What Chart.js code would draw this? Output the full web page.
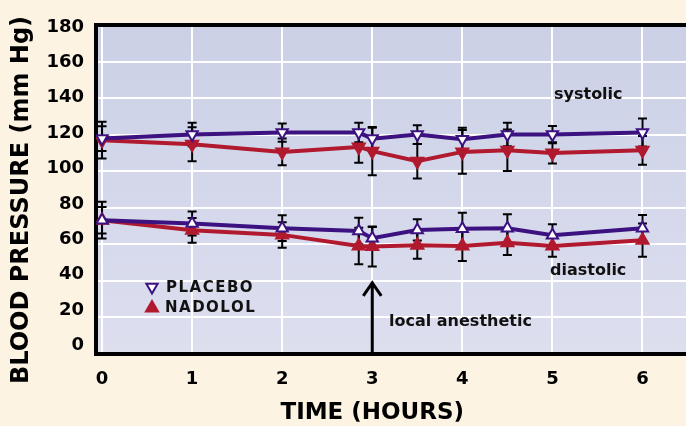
<!DOCTYPE html>
<html>
<head>
<meta charset="utf-8">
<script src="https://cdn.jsdelivr.net/npm/chart.js@4.4.1/dist/chart.umd.min.js"></script>
<style>
html, body { margin: 0; padding: 0; background: #fdf3e3; }
#wrap { width: 686px; height: 426px; }
</style>
</head>
<body>
<div id="wrap"><canvas id="myChart" width="686" height="426"></canvas></div>
<script>
// time of each measurement (hours)
const hours = [0, 1, 2, 2.85, 3, 3.5, 4, 4.5, 5, 6];
const xTicks = [0, 1, 2, 3, 4, 5, 6];
const yTicks = [0, 20, 40, 60, 80, 100, 120, 140, 160, 180];

// blood pressure (mm Hg) and error bars
const placeboSys    = [116.9, 119.2, 120.3, 120.3, 116.9, 119.2, 116.6, 119.2, 119.2, 120.3];
const placeboSysErr = [7.0, 6.6, 5.1, 5.5, 6.2, 5.3, 6.4, 6.6, 4.9, 7.9];
const nadololSys    = [116.0, 113.7, 109.4, 112.2, 109.8, 104.1, 109.4, 110.3, 108.8, 110.3];
const nadololSysErr = [10.4, 9.6, 7.5, 9.0, 13.6, 9.8, 12.4, 11.7, 6.0, 8.1];
const placeboDia    = [70.8, 68.9, 66.3, 64.7, 60.6, 65.3, 66.0, 66.3, 62.3, 66.3];
const placeboDiaErr = [7.5, 6.8, 7.3, 7.5, 6.4, 6.0, 9.0, 7.9, 6.2, 7.5];
const nadololDia    = [70.8, 65.1, 62.5, 56.2, 55.9, 56.6, 56.2, 58.1, 56.2, 59.5];
const nadololDiaErr = [10.4, 7.0, 7.2, 10.3, 11.3, 7.6, 8.5, 7.0, 6.0, 9.4];

const anesthTime = 3;   // arrow "local anesthetic"
const arrowTop = 36;

const purple = '#3c1180';
const red = '#b1192f';
const font = '"DejaVu Sans", sans-serif';

function serie(label, values, errs, color, fill, rot, rad) {
    return {
        label: label,
        data: hours.map((h, i) => ({ x: h, y: values[i] })),
        err: errs,
        borderColor: color,
        borderWidth: 4,
        pointStyle: 'triangle',
        rotation: rot,
        pointRadius: rad,
        pointBackgroundColor: fill,
        pointBorderColor: color,
        pointBorderWidth: 2,
        tension: 0
    };
}

const deco = {
    id: 'deco',
    beforeDraw(chart) {
        const { ctx, chartArea: a } = chart;
        const g = ctx.createLinearGradient(0, a.top, 0, a.bottom);
        g.addColorStop(0, '#cbd0e6');
        g.addColorStop(1, '#dddfef');
        ctx.save();
        ctx.fillStyle = g;
        ctx.fillRect(a.left, a.top, a.right - a.left, a.bottom - a.top);
        ctx.restore();
    },
    beforeDatasetsDraw(chart) {
        // error bars, under the lines
        const { ctx, scales } = chart;
        ctx.save();
        ctx.strokeStyle = '#000';
        ctx.lineWidth = 2;
        chart.data.datasets.forEach(ds => {
            ds.data.forEach((p, i) => {
                const x = scales.x.getPixelForValue(p.x);
                const y1 = scales.y.getPixelForValue(p.y + ds.err[i]);
                const y2 = scales.y.getPixelForValue(p.y - ds.err[i]);
                ctx.beginPath();
                ctx.moveTo(x, y1); ctx.lineTo(x, y2);
                ctx.moveTo(x - 4.5, y1); ctx.lineTo(x + 4.5, y1);
                ctx.moveTo(x - 4.5, y2); ctx.lineTo(x + 4.5, y2);
                ctx.stroke();
            });
        });
        ctx.restore();
    },
    afterDraw(chart) {
        const { ctx, chartArea: a, scales } = chart;
        ctx.save();
        // top border
        ctx.fillStyle = '#000';
        ctx.fillRect(a.left - 2, a.top - 2, a.right - a.left + 2, 4);

        // arrow
        const ax = scales.x.getPixelForValue(anesthTime);
        const at = scales.y.getPixelForValue(arrowTop);
        ctx.strokeStyle = '#000';
        ctx.lineWidth = 3;
        ctx.beginPath();
        ctx.moveTo(ax, at); ctx.lineTo(ax, a.bottom);
        ctx.moveTo(ax - 9, at + 14); ctx.lineTo(ax, at + 1); ctx.lineTo(ax + 9, at + 14);
        ctx.stroke();

        // annotations
        ctx.fillStyle = '#111';
        ctx.textBaseline = 'middle';
        ctx.textAlign = 'left';
        ctx.font = 'bold 16px ' + font;
        ctx.fillText('systolic', 554, 95);
        ctx.fillText('diastolic', 550, 271);
        ctx.fillText('local anesthetic', 389, 322);

        // legend
        ctx.lineWidth = 2;
        ctx.strokeStyle = purple;
        ctx.fillStyle = '#fff';
        Chart.helpers.drawPoint(ctx, { pointStyle: 'triangle', rotation: 180, radius: 6.5, borderWidth: 2 }, 152, 287);
        ctx.strokeStyle = red;
        ctx.fillStyle = red;
        Chart.helpers.drawPoint(ctx, { pointStyle: 'triangle', rotation: 0, radius: 7, borderWidth: 2 }, 152, 308);
        ctx.fillStyle = '#111';
        ctx.font = 'bold 15px ' + font;
        ctx.letterSpacing = '1.5px';
        ctx.fillText('PLACEBO', 166, 288);
        ctx.fillText('NADOLOL', 165, 308);
        ctx.letterSpacing = '0px';

        // axis titles
        ctx.fillStyle = '#000';
        ctx.textAlign = 'center';
        ctx.font = 'bold 23px ' + font;
        ctx.fillText('TIME (HOURS)', scales.x.getPixelForValue(3), 413);
        ctx.translate(22, 200);
        ctx.rotate(-Math.PI / 2);
        ctx.font = 'bold 24px ' + font;
        ctx.fillText('BLOOD PRESSURE (mm Hg)', 0, 0);
        ctx.restore();
    }
};

const config = {
    type: 'line',
    data: {
        datasets: [
            serie('PLACEBO systolic', placeboSys, placeboSysErr, purple, '#fff', 180, 6.5),
            serie('PLACEBO diastolic', placeboDia, placeboDiaErr, purple, '#fff', 0, 6.5),
            serie('NADOLOL systolic', nadololSys, nadololSysErr, red, red, 180, 7),
            serie('NADOLOL diastolic', nadololDia, nadololDiaErr, red, red, 0, 7)
        ]
    },
    options: {
        responsive: false,
        animation: false,
        layout: { autoPadding: false, padding: { top: 25, right: 0, left: 0, bottom: 0 } },
        plugins: { legend: { display: false }, tooltip: { enabled: false } },
        scales: {
            x: {
                type: 'linear',
                min: -0.067,
                max: 6.483,
                afterBuildTicks: s => { s.ticks = xTicks.map(v => ({ value: v })); },
                afterFit: s => { s.height = 72; },
                grid: { color: '#fff', lineWidth: 2, drawTicks: false },
                border: { color: '#000', width: 4 },
                ticks: { color: '#000', padding: 15, font: { family: font, size: 18, weight: 'bold' } }
            },
            y: {
                min: -4.8,
                max: 181.1,
                afterBuildTicks: s => { s.ticks = yTicks.map(v => ({ value: v })); },
                afterFit: s => { s.width = 96; },
                grid: { display: false, drawTicks: false },
                border: { color: '#000', width: 4 },
                ticks: { color: '#000', padding: 12, font: { family: font, size: 18, weight: 'bold' } }
            },
            yg: {
                position: 'right',
                min: 0,
                max: 9,
                afterBuildTicks: s => { s.ticks = [1, 2, 3, 4, 5, 6, 7, 8].map(v => ({ value: v })); },
                afterFit: s => { s.width = 0; },
                grid: { color: '#fff', lineWidth: 2, drawTicks: false },
                border: { display: false },
                ticks: { display: false }
            }
        }
    },
    plugins: [deco]
};

const myChart = new Chart(document.getElementById('myChart'), config);
</script>
</body>
</html>
